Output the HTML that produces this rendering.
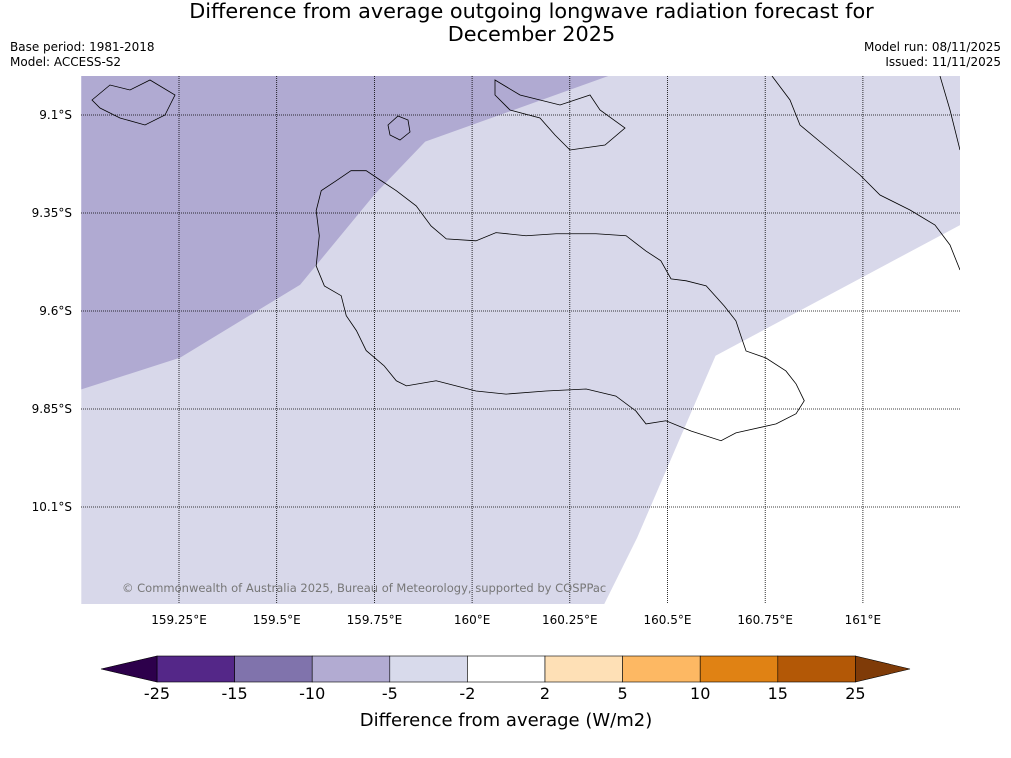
<!DOCTYPE html>
<html><head><meta charset="utf-8"><style>
body{margin:0;background:#fff;width:1011px;height:758px;overflow:hidden;font-family:"DejaVu Sans","Liberation Sans",sans-serif}
.t{position:absolute;font-size:12px;color:#000}
</style></head><body>
<div style="position:absolute;left:0;width:1063px;top:0;text-align:center;font-size:20.8px;line-height:23px">Difference from average outgoing longwave radiation forecast for<br>December 2025</div>
<div class="t" style="left:10px;top:40px">Base period: 1981-2018</div>
<div class="t" style="left:10px;top:55px">Model: ACCESS-S2</div>
<div class="t" style="right:10px;top:40px;text-align:right">Model run: 08/11/2025</div>
<div class="t" style="right:10px;top:55px;text-align:right">Issued: 11/11/2025</div>
<svg id="s" width="1011" height="758" style="position:absolute;left:0;top:0"></svg>
<script>
const lonTicks=[159.25,159.5,159.75,160,160.25,160.5,160.75,161];
const latTicks=[9.1,9.35,9.6,9.85,10.1];
const cbLevels=[-25,-15,-10,-5,-2,2,5,10,15,25];
const cbColors=["#542788","#8073ac","#b2abd2","#d8daeb","#ffffff","#fee0b6","#fdb863","#e08214","#b35806"];
const cbLow="#2d004b", cbHigh="#7f3b08";
const darkRegion=[[159,9.0],[160.35,9.0],[159.88,9.168],[159.75,9.303],[159.56,9.533],[159.253,9.719],[159,9.8]];
const whiteRegion=[[161.25,9.38],[160.623,9.714],[160.422,10.179],[160.322,10.38],[161.25,10.38]];
const lightRegion=[[159,9.0],[161.25,9.0],[161.25,10.38],[159,10.38]];
const island=[[159.69,9.242],[159.652,9.268],[159.614,9.293],[159.601,9.344],[159.609,9.408],[159.601,9.485],[159.622,9.536],[159.665,9.561],[159.678,9.612],[159.704,9.65],[159.729,9.701],[159.775,9.74],[159.806,9.778],[159.832,9.791],[159.908,9.778],[160.01,9.804],[160.087,9.812],[160.189,9.804],[160.292,9.799],[160.368,9.817],[160.419,9.855],[160.445,9.888],[160.496,9.88],[160.56,9.906],[160.637,9.931],[160.675,9.911],[160.778,9.888],[160.829,9.862],[160.85,9.829],[160.829,9.786],[160.803,9.753],[160.752,9.72],[160.701,9.702],[160.688,9.664],[160.675,9.625],[160.645,9.587],[160.599,9.536],[160.548,9.523],[160.509,9.518],[160.483,9.472],[160.445,9.447],[160.394,9.408],[160.317,9.403],[160.215,9.403],[160.138,9.408],[160.061,9.4],[160.01,9.421],[159.934,9.416],[159.895,9.383],[159.857,9.332],[159.806,9.293],[159.768,9.268],[159.729,9.242]];
const X=lon=>179+(lon-159.25)*390.8;
const Y=lat=>115+(lat-9.1)*392;
const s=document.getElementById('s');
const NS='http://www.w3.org/2000/svg';
function mk(t,a,p){const e=document.createElementNS(NS,t);for(const k in a)e.setAttribute(k,a[k]);(p||s).appendChild(e);return e;}
const defs=mk('defs',{});const cp=mk('clipPath',{id:'c'},defs);mk('rect',{x:81,y:76,width:879,height:528},cp);
const g=mk('g',{'clip-path':'url(#c)'});
const pts=a=>a.map(p=>X(p[0])+','+Y(p[1])).join(' ');
let e=mk('polygon',{points:pts(lightRegion),fill:'#d8d8ea'},g);


e=mk('polygon',{points:pts(darkRegion),fill:'#b0aad2'},g);


e=mk('polygon',{points:pts(whiteRegion),fill:'#ffffff'},g);


e=mk('polygon',{points:pts(island),fill:'none',stroke:'#000','stroke-width':0.8},g);


e=mk('path',{d:'M92,100 L110,85 L130,90 L150,80 L175,95 L165,115 L145,125 L120,118 L100,108 Z M388,125 L398,116 L408,120 L410,132 L400,140 L390,135 Z M495,80 L520,95 L560,105 L590,95 L600,110 L625,128 L605,145 L570,150 L555,135 L540,118 L510,110 L495,95 Z M772,76 L790,100 L800,125 L830,150 L860,175 L880,195 L910,210 L935,225 L950,245 L960,270 M940,76 L950,110 L960,150',fill:'none',stroke:'#000','stroke-width':0.8},g);


lonTicks.forEach(v=>{const x=X(v);
 let l=mk('line',{x1:x,x2:x,y1:76,y2:604,stroke:'#000','stroke-width':0.8,'stroke-dasharray':'1,1'});
 
 
 let t=mk('text',{x:x,y:624,'text-anchor':'middle','font-size':12,fill:'#000'});t.textContent=v+'°E';
 
 });
latTicks.forEach(v=>{const y=Y(v);
 let l=mk('line',{x1:81,x2:960,y1:y,y2:y,stroke:'#000','stroke-width':0.8,'stroke-dasharray':'1,1'});
 
 
 let t=mk('text',{x:72,y:y+4,'text-anchor':'end','font-size':12,fill:'#000'});t.textContent=v+'°S';
 
 });
let cr=mk('text',{x:122,y:592,'font-size':11.5,fill:'#777'});cr.textContent='© Commonwealth of Australia 2025, Bureau of Meteorology, supported by COSPPac';


const cbX=i=>157+i*77.6, cy0=656, cy1=682;
cbColors.forEach((c,i)=>{let r=mk('rect',{x:cbX(i),y:cy0,width:77.6,height:cy1-cy0,fill:c,stroke:'#000','stroke-width':0.6});
 
 });
e=mk('polygon',{points:`${cbX(0)},${cy0} ${cbX(0)},${cy1} 101,669`,fill:cbLow,stroke:'#000','stroke-width':0.6});


const n=cbColors.length;
e=mk('polygon',{points:`${cbX(n)},${cy0} ${cbX(n)},${cy1} 910,669`,fill:cbHigh,stroke:'#000','stroke-width':0.6});


cbLevels.forEach((v,i)=>{let t=mk('text',{x:cbX(i),y:699,'text-anchor':'middle','font-size':16,fill:'#000'});t.textContent=v;
 
 });
let ct=mk('text',{x:506,y:726,'text-anchor':'middle','font-size':18,fill:'#000'});ct.textContent='Difference from average (W/m2)';


</script>
</body></html>
